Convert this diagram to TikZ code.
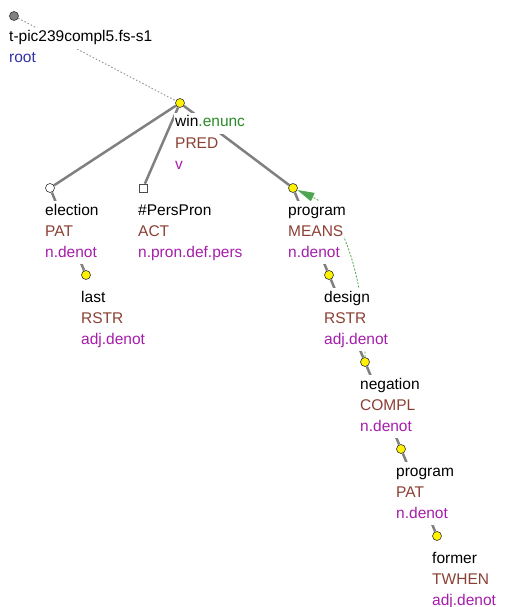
\documentclass[tikz,border=0pt]{standalone}
\usepackage{fontspec}
\setmainfont{Liberation Sans}
\usetikzlibrary{arrows.meta}
\definecolor{functor}{RGB}{140,64,52}
\definecolor{sempos}{RGB}{165,30,170}
\definecolor{rootblue}{RGB}{50,50,165}
\definecolor{enunc}{RGB}{40,140,40}
\definecolor{corefgreen}{RGB}{80,165,80}
\definecolor{edgegray}{RGB}{128,128,128}

\tikzset{
  tnode/.style={circle,draw=black!80,line width=0.6pt,fill=yellow,minimum size=9pt,inner sep=0pt},
  rootnode/.style={tnode,fill=gray},
  leafnode/.style={tnode,fill=white},
  gennode/.style={rectangle,draw=black!70,line width=0.6pt,fill=white,minimum size=8pt,inner sep=0pt},
  edge/.style={draw=edgegray,line width=2.5pt},
  rootedge/.style={draw=black!40,line width=1pt,dash pattern=on 1.5pt off 2pt},
  coref/.style={draw=corefgreen,line width=0.8pt,dash pattern=on 2pt off 1.5pt,
    -{Triangle[length=17pt,width=9pt,fill=corefgreen]}},
  lbl/.style={anchor=base west,fill=white,inner xsep=1pt,inner ysep=1pt,
    text height=13pt,text depth=6pt,font=\fontsize{15.5}{18}\selectfont},
  fn/.style={lbl,text=functor},
  sp/.style={lbl,text=sempos}
}

\begin{document}
\begin{tikzpicture}[x=1pt,y=-1pt]
\useasboundingbox (0,0) rectangle (504,607);
% tree nodes
\node[rootnode] (root) at (14,16) {};
\node[tnode] (win) at (180,103) {};
\node[leafnode] (election) at (50,188) {};
\node[gennode] (perspron) at (143,188) {};
\node[tnode] (program) at (293,188) {};
\node[tnode] (last) at (86,275) {};
\node[tnode] (design) at (329,275) {};
\node[tnode] (negation) at (365,362) {};
\node[tnode] (program2) at (401,449) {};
\node[tnode] (former) at (437,536) {};
% edges
\draw[rootedge] (root) -- (win);
\draw[edge] (win) -- (election);
\draw[edge] (win) -- (perspron);
\draw[edge] (win) -- (program);
\draw[edge] (election) -- (last);
\draw[edge] (program) -- (design);
\draw[edge] (design) -- (negation);
\draw[edge] (negation) -- (program2);
\draw[edge] (program2) -- (former);
\draw[coref] (negation) .. controls (366,290) and (345,212) .. (program);
% labels
\node[lbl] (root-t) at (8,42) {t-pic239compl5.fs-s1};
\node[lbl,text=rootblue] (root-f) at (8,63) {root};
\node[lbl] (win-t) at (174,127) {win\textcolor{enunc}{.enunc}};
\node[fn] (win-f) at (174,148) {PRED};
\node[sp] (win-s) at (174,169) {v};
\node[lbl] (election-t) at (44,215) {election};
\node[fn] (election-f) at (44,236) {PAT};
\node[sp] (election-s) at (44,257) {n.denot};
\node[lbl] (perspron-t) at (137,215) {\#PersPron};
\node[fn] (perspron-f) at (137,236) {ACT};
\node[sp] (perspron-s) at (137,257) {n.pron.def.pers};
\node[lbl] (program-t) at (287,215) {program};
\node[fn] (program-f) at (287,236) {MEANS};
\node[sp] (program-s) at (287,257) {n.denot};
\node[lbl] (last-t) at (80,302) {last};
\node[fn] (last-f) at (80,323) {RSTR};
\node[sp] (last-s) at (80,344) {adj.denot};
\node[lbl] (design-t) at (323,302) {design};
\node[fn] (design-f) at (323,323) {RSTR};
\node[sp] (design-s) at (323,344) {adj.denot};
\node[lbl] (negation-t) at (359,389) {negation};
\node[fn] (negation-f) at (359,410) {COMPL};
\node[sp] (negation-s) at (359,431) {n.denot};
\node[lbl] (program2-t) at (395,476) {program};
\node[fn] (program2-f) at (395,497) {PAT};
\node[sp] (program2-s) at (395,518) {n.denot};
\node[lbl] (former-t) at (431,563) {former};
\node[fn] (former-f) at (431,584) {TWHEN};
\node[sp] (former-s) at (431,605) {adj.denot};
\end{tikzpicture}
\end{document}
